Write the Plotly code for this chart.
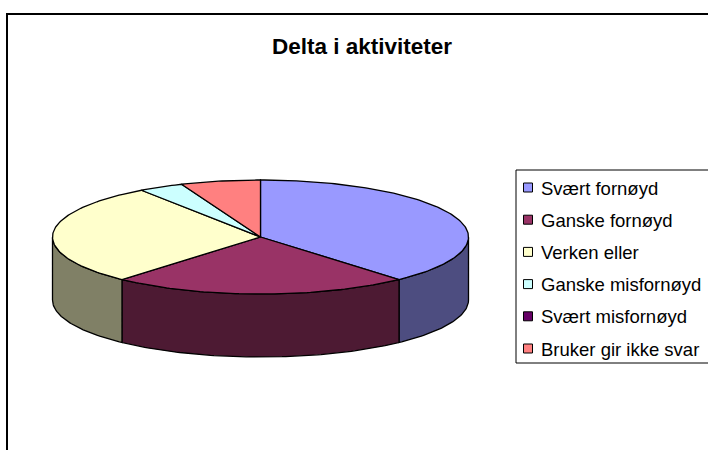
import numpy as np
import plotly.graph_objects as go

# ---- data ----
title_text = "Delta i aktiviteter"
labels = ["Svært fornøyd", "Ganske fornøyd", "Verken eller",
          "Ganske misfornøyd", "Svært misfornøyd", "Bruker gir ikke svar"]
values = [38.4, 23.2, 28.7, 3.5, 0.0, 6.2]
top_colors = ["#9999FF", "#993366", "#FFFFCC", "#CCFFFF", "#660066", "#FF8080"]
side_colors = ["#4D4D80", "#4D1A33", "#808066", "#668080", "#330033", "#804040"]

# ---- geometry of the projected 3D pie (pixel space) ----
W, H = 708, 450
cx, cy = 260.5, 237.0
rx, ry = 208.0, 57.0
depth = 63.0
FONT = "Arial, Liberation Sans, sans-serif"


def arc(a0, a1, dy=0.0, n=None):
    if n is None:
        n = max(2, int(abs(a1 - a0) / 1.0) + 2)
    phi = np.radians(np.linspace(a0, a1, n))
    return cx + rx * np.sin(phi), cy - ry * np.cos(phi) + dy


total = float(sum(values))
bounds = []
acc = 0.0
for v in values:
    a0 = acc / total * 360.0
    acc += v
    a1 = acc / total * 360.0
    bounds.append((a0, a1))

fig = go.Figure()

# side walls (front half only: 90..270 degrees clockwise from top)
for lab, v, (a0, a1), col in zip(labels, values, bounds, side_colors):
    if v <= 0:
        continue
    s, e = max(a0, 90.0), min(a1, 270.0)
    if e <= s:
        continue
    xt, yt = arc(s, e)
    xb, yb = arc(e, s, dy=depth)
    xs = np.concatenate([xt, xb, xt[:1]])
    ys = np.concatenate([yt, yb, yt[:1]])
    fig.add_trace(go.Scatter(x=xs, y=ys, mode="lines", fill="toself",
                             fillcolor=col, line=dict(color="black", width=1.3),
                             hoverinfo="skip", showlegend=False))

# top faces
for lab, v, (a0, a1), col in zip(labels, values, bounds, top_colors):
    if v <= 0:
        continue
    xa, ya = arc(a0, a1)
    xs = np.concatenate([[cx], xa, [cx]])
    ys = np.concatenate([[cy], ya, [cy]])
    fig.add_trace(go.Scatter(x=xs, y=ys, mode="lines", fill="toself",
                             fillcolor=col, line=dict(color="black", width=1.3),
                             name=lab, text=f"{lab}: {v}", hoverinfo="text",
                             showlegend=False))

shapes = []
annotations = []

# chart frame
shapes.append(dict(type="rect", xref="x", yref="y", x0=7, y0=14, x1=714, y1=456,
                   line=dict(color="black", width=2), fillcolor="rgba(0,0,0,0)"))

# title
annotations.append(dict(x=362, y=46, xref="x", yref="y", text=f"<b>{title_text}</b>",
                        showarrow=False, xanchor="center", yanchor="middle",
                        font=dict(family=FONT, size=22.5, color="black")))

# legend (manual, Excel style)
lx0, ly0, lx1, ly1 = 516, 170, 714, 363
shapes.append(dict(type="rect", xref="x", yref="y", x0=lx0, y0=ly0, x1=lx1, y1=ly1,
                   line=dict(color="black", width=1), fillcolor="white", layer="below"))
row0, step, sw = 187.5, 32.2, 9
for i, (lab, col) in enumerate(zip(labels, top_colors)):
    yc = row0 + i * step
    shapes.append(dict(type="rect", xref="x", yref="y", x0=523.5, x1=523.5 + sw,
                       y0=yc - sw / 2, y1=yc + sw / 2,
                       line=dict(color="black", width=1), fillcolor=col))
    annotations.append(dict(x=539, y=yc + 0.5, xref="x", yref="y", text=lab,
                            showarrow=False, xanchor="left", yanchor="middle",
                            font=dict(family=FONT, size=18.5, color="black")))

fig.update_layout(
    width=W, height=H,
    margin=dict(l=0, r=0, t=0, b=0),
    paper_bgcolor="white", plot_bgcolor="white",
    xaxis=dict(range=[0, W], visible=False, fixedrange=True),
    yaxis=dict(range=[H, 0], visible=False, fixedrange=True),
    shapes=shapes, annotations=annotations,
    showlegend=False,
)

fig.write_html("out.html", config={"displayModeBar": False},
               post_script="document.body.style.margin='0';document.body.style.overflow='hidden';")
